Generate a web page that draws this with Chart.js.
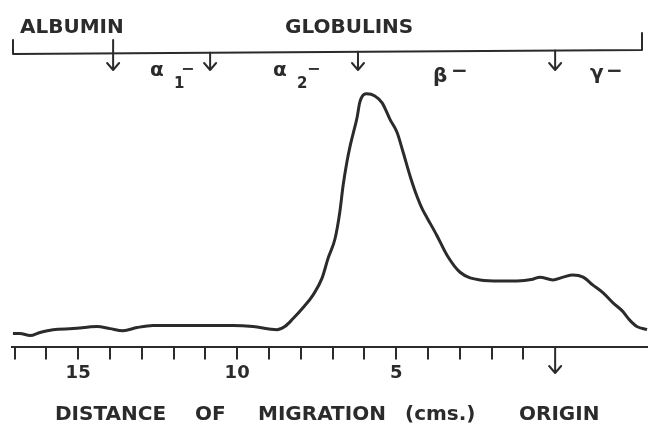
<!DOCTYPE html>
<html>
<head>
<meta charset="utf-8">
<script src="https://cdn.jsdelivr.net/npm/chart.js@4.4.1/dist/chart.umd.min.js"></script>
<style>
  html, body { margin: 0; padding: 0; background: #ffffff; }
  #wrap { width: 648px; height: 426px; }
</style>
</head>
<body>
<div id="wrap"><canvas id="c" width="648" height="426"></canvas></div>
<script>
// ---- Data ----
const distanceCm = [17.05, 16.83, 16.51, 16.20, 15.79, 15.16, 14.41, 14.00, 13.59, 13.15, 12.65, 11.70, 10.63, 10.13, 9.50, 8.75, 8.50, 8.24, 7.93, 7.61, 7.33, 7.14, 6.92, 6.77, 6.67, 6.55, 6.45, 6.36, 6.23, 6.14, 5.92, 5.67, 5.44, 5.19, 4.97, 4.78, 4.56, 4.34, 4.18, 4.03, 3.72, 3.40, 2.99, 2.36, 1.73, 1.20, 0.70, 0.48, 0.07, -0.25, -0.56, -0.88, -1.19, -1.51, -1.82, -2.11, -2.36, -2.57, -2.89];
const density    = [5.4, 5.4, 4.6, 5.8, 6.9, 7.3, 8.1, 7.3, 6.5, 7.7, 8.5, 8.5, 8.5, 8.5, 8.1, 6.9, 8.1, 11.2, 15.4, 20.4, 26.9, 34.6, 42.3, 52.7, 62.7, 71.9, 78.1, 82.7, 89.2, 95.4, 98.5, 97.7, 95.0, 88.5, 83.5, 75.8, 66.5, 58.5, 53.8, 50.4, 43.5, 35.8, 29.2, 26.2, 25.8, 25.8, 26.5, 27.3, 26.2, 27.3, 28.1, 27.3, 24.2, 21.2, 17.3, 14.2, 10.4, 8.1, 6.9];
const tickValues = [1, 2, 3, 4, 5, 6, 7, 8, 9, 10, 11, 12, 13, 14, 15, 16, 17];
const tickLabels = [5, 10, 15];
const fractionBoundariesCm = [13.9, 10.85, 6.2, 0];   // arrows on the header bracket
const originCm = 0;

const INK = '#2b2b2b';
const FONT = '"DejaVu Sans", sans-serif';

const annotations = {
  id: 'annotations',
  afterDraw(chart) {
    const ctx = chart.ctx;
    const xs = chart.scales.x;
    const left = chart.chartArea.left, right = chart.chartArea.right;
    ctx.save();
    ctx.strokeStyle = INK;
    ctx.fillStyle = INK;
    ctx.lineWidth = 2;
    ctx.lineCap = 'round';
    ctx.lineJoin = 'round';

    // header bracket
    const bx0 = left + 1, bx1 = right - 6;
    const by0 = 54, by1 = 50;
    const bracketY = x => by0 + (by1 - by0) * (x - bx0) / (bx1 - bx0);
    ctx.beginPath();
    ctx.moveTo(bx0, 40);
    ctx.lineTo(bx0, by0);
    ctx.lineTo(bx1, by1);
    ctx.lineTo(bx1, 33);
    ctx.stroke();

    // arrows marking fraction boundaries
    const arrow = (x, y0, y1) => {
      ctx.beginPath();
      ctx.moveTo(x, y0);
      ctx.lineTo(x, y1);
      ctx.moveTo(x - 6, y1 - 7);
      ctx.lineTo(x, y1);
      ctx.lineTo(x + 6, y1 - 7);
      ctx.stroke();
    };
    fractionBoundariesCm.forEach((v, i) => {
      const px = xs.getPixelForValue(v);
      const top = i === 0 ? 40 : bracketY(px);
      arrow(px, top, 70);
    });

    // origin arrow below axis
    const ox = xs.getPixelForValue(originCm);
    arrow(ox, chart.chartArea.bottom, 373);

    // header texts
    ctx.textBaseline = 'alphabetic';
    ctx.textAlign = 'left';
    ctx.font = 'bold 20px ' + FONT;
    ctx.fillText('ALBUMIN', 20, 33);
    ctx.fillText('GLOBULINS', 285, 33);

    // fraction labels
    ctx.font = 'bold 20px ' + FONT;
    ctx.fillText('α', 150, 76);
    ctx.fillText('α', 273, 76);
    ctx.fillText('β', 433, 82);
    ctx.fillText('γ', 590, 79);
    ctx.font = 'bold 15px ' + FONT;
    ctx.fillText('1', 174, 88);
    ctx.fillText('2', 297, 88);
    ctx.font = 'bold 16px ' + FONT;
    ctx.fillText('−', 181, 74);
    ctx.fillText('−', 307, 74);
    ctx.font = 'bold 20px ' + FONT;
    ctx.fillText('−', 451, 77);
    ctx.fillText('−', 606, 77);

    // axis title row
    ctx.font = 'bold 20px ' + FONT;
    ctx.fillText('DISTANCE', 55, 420);
    ctx.fillText('OF', 195, 420);
    ctx.fillText('MIGRATION', 258, 420);
    ctx.fillText('(cms.)', 405, 420);
    ctx.fillText('ORIGIN', 519, 420);
    ctx.restore();
  }
};

new Chart(document.getElementById('c'), {
  type: 'line',
  data: {
    datasets: [{
      data: distanceCm.map((x, i) => ({ x: x, y: density[i] })),
      borderColor: INK,
      borderWidth: 3,
      pointRadius: 0,
      cubicInterpolationMode: 'monotone',
      fill: false
    }]
  },
  options: {
    responsive: false,
    animation: false,
    events: [],
    layout: { padding: { left: 12, right: 0, top: 90, bottom: 39 } },
    plugins: { legend: { display: false }, tooltip: { enabled: false }, title: { display: false } },
    scales: {
      x: {
        type: 'linear',
        reverse: true,
        min: -2.92,
        max: 17.08,
        afterBuildTicks: s => { s.ticks = tickValues.map(v => ({ value: v })); },
        grid: { drawOnChartArea: false, drawTicks: true, tickLength: 12, color: INK, lineWidth: 2 },
        border: { display: true, color: INK, width: 2 },
        ticks: {
          autoSkip: false,
          maxRotation: 0,
          padding: 3,
          color: INK,
          font: { family: FONT, size: 18, weight: 'bold' },
          callback: v => tickLabels.includes(v) ? String(v) : ''
        }
      },
      y: { display: false, min: 0, max: 100 }
    }
  },
  plugins: [annotations]
});
</script>
</body>
</html>
